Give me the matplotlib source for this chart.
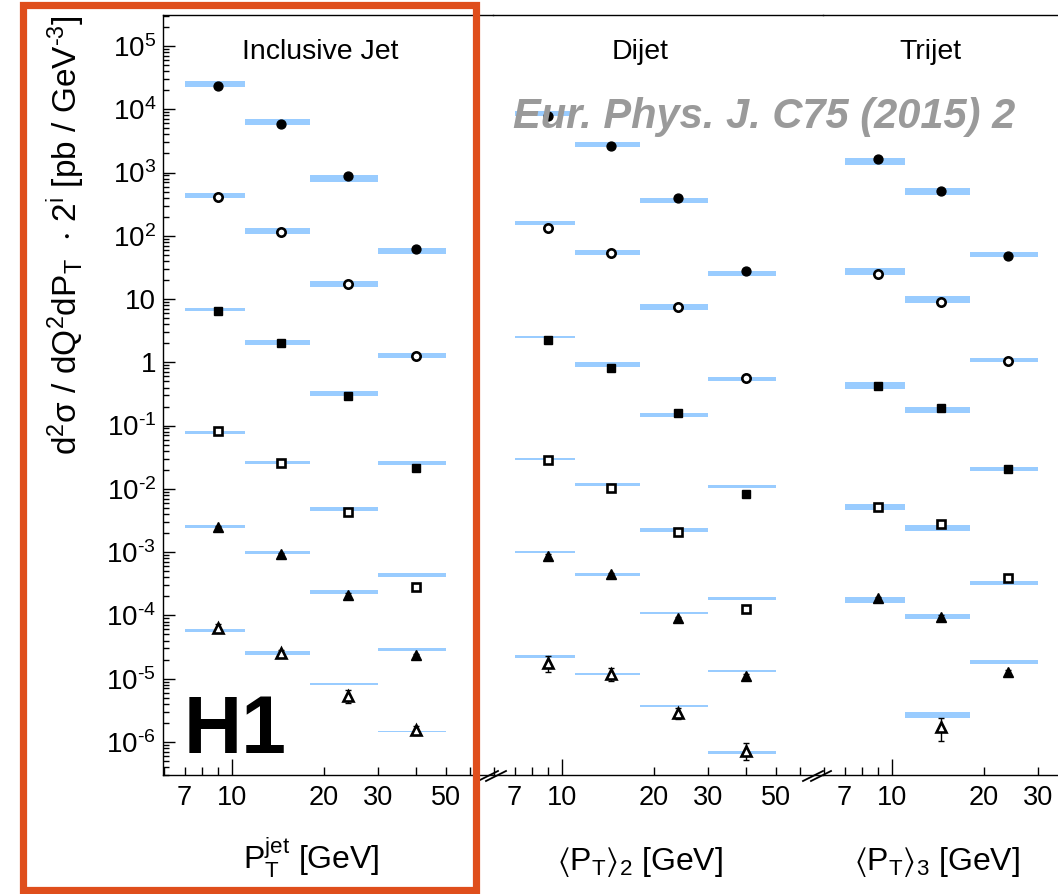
import numpy as np
import matplotlib
matplotlib.use('Agg')
import matplotlib.pyplot as plt
from matplotlib.ticker import FixedLocator, FuncFormatter, LogLocator, NullFormatter
from matplotlib.patches import Rectangle
from matplotlib.lines import Line2D

plt.rcParams['font.family'] = ['Liberation Sans', 'DejaVu Sans']
plt.rcParams['mathtext.fontset'] = 'custom'
plt.rcParams['mathtext.rm'] = 'Liberation Sans'
plt.rcParams['mathtext.it'] = 'Liberation Sans:italic'
plt.rcParams['mathtext.bf'] = 'Liberation Sans:bold'
plt.rcParams['mathtext.fallback'] = 'stixsans'

# ---------------- data ----------------
bin_edges_4 = [7, 11, 18, 30, 50]
bin_edges_3 = [7, 11, 18, 30]
pt_points_4 = [9, 14.5, 24, 40]
pt_points_3 = [9, 14.5, 24]

panel_titles = ['Inclusive Jet', 'Dijet', 'Trijet']
x_titles = [r'P$_{\mathrm{T}}^{\mathrm{jet}}$ [GeV]',
            r'$\langle\mathrm{P}_{\mathrm{T}}\rangle_{2}$ [GeV]',
            r'$\langle\mathrm{P}_{\mathrm{T}}\rangle_{3}$ [GeV]']
x_minor_ticks = [[6, 7, 8, 9, 20, 30, 40, 50, 60],
                 [6, 7, 8, 9, 20, 30, 40, 50, 60],
                 [6, 7, 8, 9, 20, 30]]

# Inclusive jet: measured values (scaled by 2^i), series 0..5
incl_s0 = [2.36e4, 5.9e3, 8.9e2, 61]
incl_s1 = [410, 113, 17.3, 1.26]
incl_s2 = [6.56, 2.0, 0.294, 0.0216]
incl_s3 = [0.082, 0.0257, 4.37e-3, 2.85e-4]
incl_s4 = [2.53e-3, 9.35e-4, 2.1e-4, 2.34e-5]
incl_s5 = [6.4e-5, 2.52e-5, 5.33e-6, 1.53e-6]
# Inclusive jet: relative data errors [%]
incl_e0 = [3, 3, 3, 4]
incl_e1 = [3, 3, 3, 4]
incl_e2 = [3, 3, 4, 5]
incl_e3 = [4, 4, 5, 6]
incl_e4 = [4, 5, 6, 6]
incl_e5 = [15, 12, 22, 15]
# Inclusive jet: NLO prediction (band centre) and relative band half-width [%]
incl_t0 = [2.48e4, 6.3e3, 8.0e2, 58]
incl_t1 = [430, 119, 17.3, 1.27]
incl_t2 = [6.8, 2.07, 0.32, 0.0254]
incl_t3 = [0.078, 0.026, 4.75e-3, 4.3e-4]
incl_t4 = [2.55e-3, 9.9e-4, 2.34e-4, 2.88e-5]
incl_t5 = [5.8e-5, 2.55e-5, 8.2e-6, 1.47e-6]
incl_u0 = [11, 12, 13, 12]
incl_u1 = [10, 11, 12, 9]
incl_u2 = [6, 10, 10, 8]
incl_u3 = [4.5, 6, 8, 7]
incl_u4 = [4.5, 4.5, 6, 4.5]
incl_u5 = [6.5, 6.5, 2.5, 2.5]

# Dijet
dijet_s0 = [7.9e3, 2.63e3, 401, 27.8]
dijet_s1 = [134.5, 52.9, 7.41, 0.56]
dijet_s2 = [2.28, 0.805, 0.157, 8.2e-3]
dijet_s3 = [0.0286, 0.01045, 2.06e-3, 1.25e-4]
dijet_s4 = [8.8e-4, 4.47e-4, 9.0e-5, 1.10e-5]
dijet_s5 = [1.75e-5, 1.19e-5, 2.84e-6, 7.3e-7]
dijet_e0 = [3, 3, 3, 5]
dijet_e1 = [3, 3, 4, 6]
dijet_e2 = [3, 3, 4, 10]
dijet_e3 = [4, 4, 5, 8]
dijet_e4 = [5, 5, 6, 8]
dijet_e5 = [28, 22, 20, 30]
dijet_t0 = [8.6e3, 2.79e3, 364, 25.2]
dijet_t1 = [159, 54.8, 7.5, 0.55]
dijet_t2 = [2.49, 0.92, 0.147, 0.011]
dijet_t3 = [0.0294, 0.01164, 2.22e-3, 1.84e-4]
dijet_t4 = [1.0e-3, 4.4e-4, 1.1e-4, 1.31e-5]
dijet_t5 = [2.23e-5, 1.17e-5, 3.74e-6, 6.8e-7]
dijet_u0 = [8, 10, 10, 9]
dijet_u1 = [8, 10, 10, 8]
dijet_u2 = [3, 10, 7.5, 5]
dijet_u3 = [4.5, 6, 8, 4.5]
dijet_u4 = [3, 4.5, 4, 4]
dijet_u5 = [4.5, 4, 4, 4.5]

# Trijet
nan = float('nan')
trijet_s0 = [1.62e3, 511, 48.5]
trijet_s1 = [24.6, 8.9, 1.05]
trijet_s2 = [0.428, 0.192, 0.0208]
trijet_s3 = [5.18e-3, 2.75e-3, 3.86e-4]
trijet_s4 = [1.89e-4, 9.55e-5, 1.26e-5]
trijet_s5 = [nan, 1.7e-6, nan]
trijet_e0 = [3, 3, 8]
trijet_e1 = [3, 3, 5]
trijet_e2 = [3, 4, 6]
trijet_e3 = [4, 5, 6]
trijet_e4 = [5, 6, 8]
trijet_e5 = [nan, 40, nan]
trijet_t0 = [1.49e3, 498, 51]
trijet_t1 = [27.1, 9.8, 1.08]
trijet_t2 = [0.428, 0.177, 0.0205]
trijet_t3 = [5.1e-3, 2.38e-3, 3.22e-4]
trijet_t4 = [1.75e-4, 9.5e-5, 1.82e-5]
trijet_t5 = [nan, 2.67e-6, nan]
trijet_u0 = [13, 13, 10]
trijet_u1 = [13, 13, 8]
trijet_u2 = [13, 13, 8]
trijet_u3 = [11, 12, 7]
trijet_u4 = [10, 10, 7.5]
trijet_u5 = [nan, 10, nan]

panels = [
    dict(edges=bin_edges_4, x=pt_points_4,
         data=[incl_s0, incl_s1, incl_s2, incl_s3, incl_s4, incl_s5],
         err=[incl_e0, incl_e1, incl_e2, incl_e3, incl_e4, incl_e5],
         theo=[incl_t0, incl_t1, incl_t2, incl_t3, incl_t4, incl_t5],
         unc=[incl_u0, incl_u1, incl_u2, incl_u3, incl_u4, incl_u5]),
    dict(edges=bin_edges_4, x=pt_points_4,
         data=[dijet_s0, dijet_s1, dijet_s2, dijet_s3, dijet_s4, dijet_s5],
         err=[dijet_e0, dijet_e1, dijet_e2, dijet_e3, dijet_e4, dijet_e5],
         theo=[dijet_t0, dijet_t1, dijet_t2, dijet_t3, dijet_t4, dijet_t5],
         unc=[dijet_u0, dijet_u1, dijet_u2, dijet_u3, dijet_u4, dijet_u5]),
    dict(edges=bin_edges_3, x=pt_points_3,
         data=[trijet_s0, trijet_s1, trijet_s2, trijet_s3, trijet_s4, trijet_s5],
         err=[trijet_e0, trijet_e1, trijet_e2, trijet_e3, trijet_e4, trijet_e5],
         theo=[trijet_t0, trijet_t1, trijet_t2, trijet_t3, trijet_t4, trijet_t5],
         unc=[trijet_u0, trijet_u1, trijet_u2, trijet_u3, trijet_u4, trijet_u5]),
]

marker_shapes = ['o', 'o', 's', 's', '^', '^']
marker_filled = [True, False, True, False, True, False]
marker_sizes = [6.4, 6.0, 6.2, 6.0, 6.8, 6.8]

band_color = '#99CCFF'
frame_color = '#DF4E1C'

# ---------------- figure ----------------
W, H = 1058, 894
fig = plt.figure(figsize=(W / 100, H / 100), dpi=100)


def fx(px):
    return px / W


def fy(py):
    return 1 - py / H


ax_l, ax_t, ax_b, pw = 163, 15, 775, 330
xlim = (5.95, 71.3)
ylim = (3.0e-7, 3.09e5)


def ylab(v, pos):
    e = int(round(np.log10(v)))
    if e == 0:
        return '1'
    if e == 1:
        return '10'
    if e < 0:
        return '10$^{\\mathrm{\u2010%d}}$' % (-e)
    return r'10$^{\mathrm{%d}}$' % e


def xminor_lab(v, pos):
    if any(abs(v - t) < 1e-6 for t in (7, 20, 30, 50)):
        return '%d' % round(v)
    return ''


for k, p in enumerate(panels):
    ax = fig.add_axes([fx(ax_l + k * pw), fy(ax_b), fx(pw), (ax_b - ax_t) / H])
    ax.set_xscale('log')
    ax.set_yscale('log')
    ax.set_xlim(*xlim)
    ax.set_ylim(*ylim)
    ax.patch.set_alpha(0)
    for s in ['top', 'bottom', 'left', 'right']:
        ax.spines[s].set_linewidth(1.0)
    ax.spines['right'].set_visible(False)
    if k > 0:
        ax.spines['left'].set_visible(False)

    # x ticks
    ax.xaxis.set_major_locator(FixedLocator([10]))
    ax.xaxis.set_minor_locator(FixedLocator(x_minor_ticks[k]))
    ax.xaxis.set_major_formatter(FuncFormatter(lambda v, pos: '10'))
    ax.xaxis.set_minor_formatter(FuncFormatter(xminor_lab))
    ax.tick_params(axis='x', which='major', direction='in', length=11.5, width=1.0,
                   labelsize=19.5, pad=7, top=False)
    ax.tick_params(axis='x', which='minor', direction='in', length=5.8, width=1.0,
                   labelsize=19.5, pad=7, top=False)
    # y ticks
    ax.yaxis.set_major_locator(LogLocator(base=10, numticks=30))
    ax.yaxis.set_minor_locator(LogLocator(base=10, subs=np.arange(2, 10), numticks=30))
    ax.yaxis.set_minor_formatter(NullFormatter())
    if k == 0:
        ax.yaxis.set_major_formatter(FuncFormatter(ylab))
        ax.tick_params(axis='y', which='major', direction='in', length=8.6, width=1.0,
                       labelsize=20, pad=5, right=False)
        ax.tick_params(axis='y', which='minor', direction='in', length=4.6, width=1.0,
                       right=False)
    else:
        ax.tick_params(axis='y', which='both', left=False, right=False, labelleft=False)

    edges = p['edges']
    for i in range(6):
        theo = p['theo'][i]
        unc = p['unc'][i]
        for b in range(len(theo)):
            if np.isnan(theo[b]):
                continue
            f = 1 + unc[b] / 100.0
            ax.fill_between([edges[b], edges[b + 1]], theo[b] / f, theo[b] * f,
                            color=band_color, lw=0, zorder=2)
    for i in range(6):
        y = np.array(p['data'][i], dtype=float)
        e = np.array(p['err'][i], dtype=float) / 100.0
        x = np.array(p['x'], dtype=float)
        ok = ~np.isnan(y)
        ax.errorbar(x[ok], y[ok], yerr=[y[ok] * e[ok], y[ok] * e[ok]], fmt='none',
                    ecolor='black', elinewidth=1.0, capsize=2.5, capthick=1.0, zorder=3)
        ax.plot(x[ok], y[ok], ls='none', marker=marker_shapes[i], ms=marker_sizes[i],
                mfc='black' if marker_filled[i] else 'white', mec='black',
                mew=1.0 if marker_filled[i] else 1.9, zorder=4)

# panel titles
for xc, t in zip([320, 640, 930], panel_titles):
    fig.text(fx(xc), fy(52), t, ha='center', va='center', fontsize=20.5)

# x titles
for xc, t in zip([311, 640, 937], x_titles):
    fig.text(fx(xc), fy(870), t, ha='center', va='baseline', fontsize=23)

# y title
fig.text(fx(66), fy(15),
         'd$^{\\mathrm{2}}$σ / dQ$^{\\mathrm{2}}$dP$_{\\mathrm{T}}$  $\\cdot$ 2$^{\\mathrm{i}}$ [pb / GeV$^{\\mathrm{\u20103}}$]',
         rotation=90, ha='center', va='top', fontsize=24)

# watermark
fig.text(fx(764), fy(128), 'Eur. Phys. J. C75 (2015) 2', ha='center', va='baseline',
         fontsize=30, fontweight='bold', fontstyle='italic', color='#9A9A9A', zorder=10)

# H1 logo
fig.text(fx(184), fy(753), 'H1', ha='left', va='baseline', fontsize=58,
         fontweight='bold', color='black')

# axis break marks
for bx in [491, 816]:
    for dx in (0, 8):
        fig.add_artist(Line2D([fx(bx - 13 + dx), fx(bx + 7 + dx)], [fy(781), fy(771)],
                              color='black', lw=1.3))

# highlight frame
fig.add_artist(Rectangle((fx(23), fy(890)), fx(476 - 23), (890 - 5) / H,
                         transform=fig.transFigure, fill=False, ec=frame_color, lw=5.2,
                         zorder=20))

fig.savefig('out.png', dpi=100)
